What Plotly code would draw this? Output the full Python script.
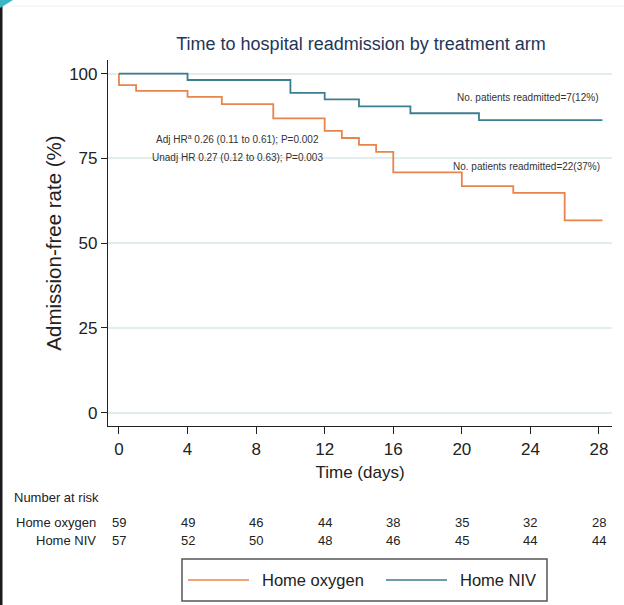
import plotly.graph_objects as go

# Kaplan-Meier step estimates (%), readmission-free
oxygen_days = [0, 0, 1, 4, 6, 9, 12, 13, 14, 15, 16, 20, 23, 26, 28.2]
oxygen_surv = [100, 96.6, 94.9, 93.1, 91.0, 86.8, 83.1, 81.0, 79.0, 76.9, 70.9, 66.8, 64.8, 56.7, 56.7]
niv_days = [0, 4, 10, 12, 14, 17, 21, 28.2]
niv_surv = [100, 98.1, 94.3, 92.4, 90.3, 88.3, 86.3, 86.3]

# Number-at-risk table
risk_days = [0, 4, 8, 12, 16, 20, 24, 28]
risk_oxygen = [59, 49, 46, 44, 38, 35, 32, 28]
risk_niv = [57, 52, 50, 48, 46, 45, 44, 44]

x_ticks = [0, 4, 8, 12, 16, 20, 24, 28]
y_ticks = [0, 25, 50, 75, 100]

ORANGE = "#e8844c"
TEAL = "#3d7d92"
FONT = "Liberation Sans, Arial, sans-serif"
TXT = "#222222"

W, H = 624, 605
L, R, T, B = 108, 612, 60, 426


def px(x):
    return (x - L) / (R - L)


def py(y):
    return (B - y) / (B - T)


fig = go.Figure()
fig.add_trace(go.Scatter(x=oxygen_days, y=oxygen_surv, mode="lines", line_shape="hv",
                         line=dict(color=ORANGE, width=1.8), name="Home oxygen",
                         showlegend=False, hoverinfo="skip"))
fig.add_trace(go.Scatter(x=niv_days, y=niv_surv, mode="lines", line_shape="hv",
                         line=dict(color=TEAL, width=1.8), name="Home NIV",
                         showlegend=False, hoverinfo="skip"))

annotations = []
shapes = []

# Curve annotations
small = dict(family=FONT, size=10, color="#333")
annotations += [
    dict(x=28.05, y=92.9, xref="x", yref="y", xanchor="right", yanchor="middle",
         text="No. patients readmitted=7(12%)", showarrow=False, font=small),
    dict(x=28.2, y=72.5, xref="x", yref="y", xanchor="right", yanchor="middle",
         text="No. patients readmitted=22(37%)", showarrow=False, font=small),
    dict(x=6.94, y=80.6, xref="x", yref="y", xanchor="center", yanchor="middle",
         text="Adj HR<sup>a</sup> 0.26 (0.11 to 0.61); P=0.002", showarrow=False, font=small),
    dict(x=6.94, y=75.4, xref="x", yref="y", xanchor="center", yanchor="middle",
         text="Unadj HR 0.27 (0.12 to 0.63); P=0.003", showarrow=False, font=small),
]

# Number at risk table
risk_font = dict(family=FONT, size=13, color=TXT)
annotations.append(dict(x=px(12), y=py(497), xref="paper", yref="paper", xanchor="left",
                        yanchor="middle", text="Number at risk", showarrow=False,
                        font=risk_font))
for label, counts, ypix in [("Home oxygen", risk_oxygen, 522), ("Home NIV", risk_niv, 540)]:
    annotations.append(dict(x=px(98), y=py(ypix), xref="paper", yref="paper", xanchor="right",
                            yanchor="middle", text=label, showarrow=False, font=risk_font))
    for d, n in zip(risk_days, counts):
        annotations.append(dict(x=d, y=py(ypix), xref="x", yref="paper", xanchor="center",
                                yanchor="middle", text=str(n), showarrow=False,
                                font=risk_font))

# Legend box
shapes.append(dict(type="rect", xref="paper", yref="paper", x0=px(182), x1=px(547),
                   y0=py(601), y1=py(559), line=dict(color="#555", width=1.5),
                   fillcolor="white"))
for color, label, lx0, tx in [(ORANGE, "Home oxygen", 188, 260), (TEAL, "Home NIV", 386, 458)]:
    shapes.append(dict(type="line", xref="paper", yref="paper", x0=px(lx0), x1=px(lx0 + 61),
                       y0=py(580), y1=py(580), line=dict(color=color, width=1.5)))
    annotations.append(dict(x=px(tx), y=py(580), xref="paper", yref="paper", xanchor="left",
                            yanchor="middle", text=label, showarrow=False,
                            font=dict(family=FONT, size=16.5, color=TXT)))

# Slide frame at the left edge
shapes.append(dict(type="rect", xref="paper", yref="paper", x0=px(0), x1=px(2.5),
                   y0=py(H), y1=py(0), line=dict(width=0), fillcolor="#1c1c1c"))
shapes.append(dict(type="line", xref="paper", yref="paper", x0=px(10), x1=px(W),
                   y0=py(6), y1=py(6), line=dict(color="#e4f4f7", width=1)))
shapes.append(dict(type="path", xref="paper", yref="paper",
                   path=f"M {px(0)} {py(0)} L {px(13)} {py(0)} L {px(0)} {py(8)} Z",
                   line=dict(width=0), fillcolor="#3bb6c6"))

fig.update_layout(
    width=W, height=H,
    margin=dict(l=L, r=W - R, t=T, b=H - B),
    paper_bgcolor="white", plot_bgcolor="white",
    title=dict(text="Time to hospital readmission by treatment arm", xref="paper",
               x=px(361), xanchor="center", y=1 - 44 / H, yanchor="middle",
               font=dict(family=FONT, size=18, color="#1e3659")),
    xaxis=dict(range=[-0.64, 28.76], tickvals=x_ticks, ticks="outside", ticklen=7,
               tickcolor="#222", showline=True, linecolor="#222", linewidth=1.2,
               showgrid=False, zeroline=False,
               tickfont=dict(family=FONT, size=17, color=TXT),
               title=dict(text="Time (days)", standoff=8,
                          font=dict(family=FONT, size=17, color=TXT))),
    yaxis=dict(range=[-3.9, 104.0], tickvals=y_ticks, ticks="outside", ticklen=6,
               tickcolor="#222", showline=True, linecolor="#222", linewidth=1.2,
               showgrid=True, gridcolor="#e3edf0", gridwidth=1.5, zeroline=False,
               tickfont=dict(family=FONT, size=17, color=TXT),
               title=dict(text="Admission-free rate (%)", standoff=1,
                          font=dict(family=FONT, size=20.5, color=TXT))),
    annotations=annotations,
    shapes=shapes,
)

fig.write_html("out.html")
